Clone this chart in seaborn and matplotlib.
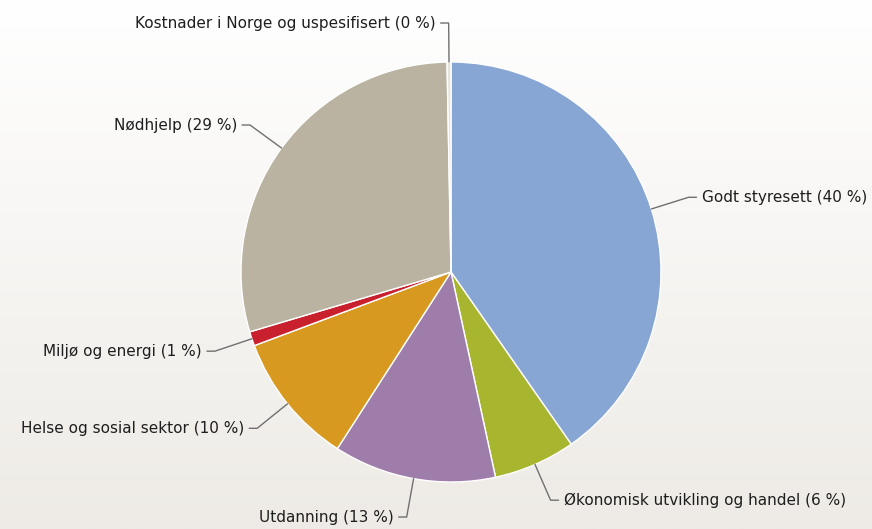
import numpy as np
import matplotlib
matplotlib.use("Agg")
import matplotlib.pyplot as plt
import seaborn as sns

# Bistand fordelt på sektor (andel i prosent)
categories = [
    "Godt styresett",
    "Økonomisk utvikling og handel",
    "Utdanning",
    "Helse og sosial sektor",
    "Miljø og energi",
    "Nødhjelp",
    "Kostnader i Norge og uspesifisert",
]
shares = [40.3, 6.3, 12.5, 10.2, 1.1, 29.3, 0.3]
labels_pct = [40, 6, 13, 10, 1, 29, 0]
colors = ["#87a6d4", "#a8b62f", "#9f7dab", "#d7991f", "#c9202e", "#bab3a1", "#e6e3dc"]

sns.set_theme(style="white")
plt.rcParams["font.family"] = ["DejaVu Sans"]

W, H = 872, 529
fig = plt.figure(figsize=(W / 100, H / 100), dpi=100)
ax = fig.add_axes([0, 0, 1, 1])

# soft vertical background gradient
grad = np.linspace(0, 1, 256).reshape(-1, 1)
top = np.array([1.0, 1.0, 1.0])
bottom = np.array([0xee, 0xeb, 0xe6]) / 255
img = top + (bottom - top) * grad[..., None]
ax.imshow(img, extent=(0, W, 0, H), aspect="auto", origin="upper", zorder=0)

cx, cy, r = 451, H - 272, 210
wedges, _ = ax.pie(
    shares,
    colors=colors,
    startangle=90,
    counterclock=False,
    radius=r,
    center=(cx, cy),
    frame=True,
    wedgeprops=dict(edgecolor="white", linewidth=1.0, zorder=2),
)
ax.set_xlim(0, W)
ax.set_ylim(0, H)
ax.set_aspect("equal")
ax.axis("off")

line_col = "#707070"
for w, name, pct in zip(wedges, categories, labels_pct):
    mid = np.deg2rad((w.theta1 + w.theta2) / 2)
    ux, uy = np.cos(mid), np.sin(mid)
    x0, y0 = cx + r * ux, cy + r * uy
    x1, y1 = cx + 249 * ux, cy + 249 * uy
    side = 1 if ux >= 0 else -1
    if abs(ux) < 0.02:
        side = -1
    x2 = x1 + side * 8
    ax.plot([x0, x1, x2], [y0, y1, y1], color=line_col, lw=1.0, zorder=3,
            solid_joinstyle="miter")
    ax.text(x2 + side * 5, y1, f"{name} ({pct} %)",
            ha="left" if side > 0 else "right", va="center",
            fontsize=11, color="#1e1e1e", zorder=4)

fig.savefig("out.png", dpi=100)
